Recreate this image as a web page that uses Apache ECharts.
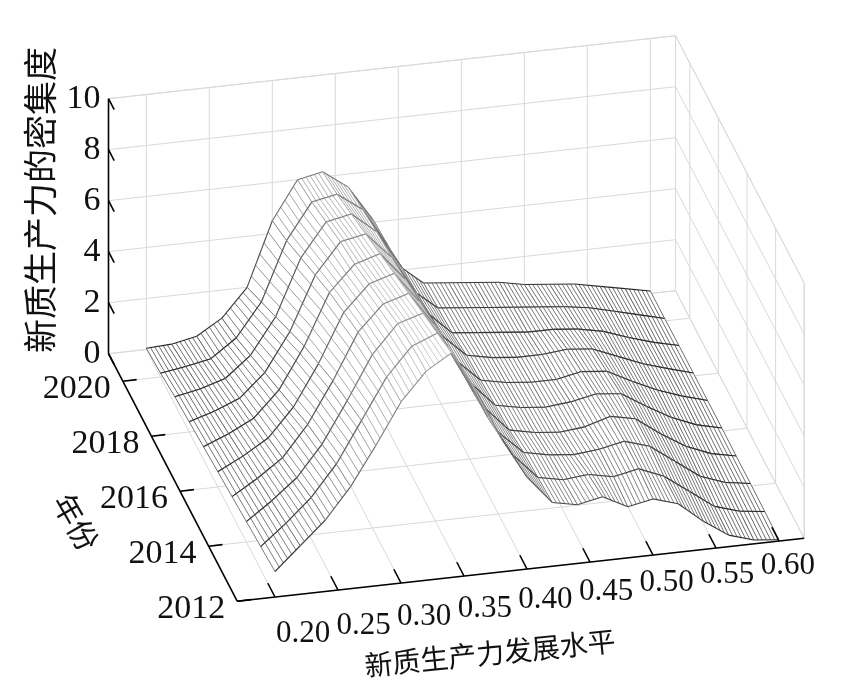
<!DOCTYPE html>
<html>
<head>
<meta charset="utf-8">
<script src="https://cdn.jsdelivr.net/npm/echarts@6/dist/echarts.min.js"></script>
<style>html,body{margin:0;padding:0;background:#fff}#chart{width:858px;height:685px}</style>
</head>
<body>
<div id="chart"></div>
<script>
// Kernel density of new quality productive forces, by year
var levels = [0.20,0.22,0.24,0.26,0.28,0.30,0.32,0.34,0.36,0.38,0.40,0.42,0.44,0.46,0.48,0.50,0.52,0.54,0.56,0.58,0.60];
var years = [2012,2013,2014,2015,2016,2017,2018,2019,2020,2021];
var d2012 = [1.0,1.9,2.8,4.0,5.5,7.1,8.2,8.8,7.2,5.2,3.6,2.5,2.3,2.5,2.0,2.2,1.9,1.1,0.45,0.15,0.05];
var d2013 = [0.9,1.7,2.6,3.8,5.4,7.0,8.1,8.5,7.0,5.0,3.4,2.4,2.2,2.3,2.1,2.3,1.9,1.2,0.5,0.2,0.08];
var d2014 = [0.8,1.5,2.3,3.5,5.1,6.8,7.9,8.2,6.8,4.9,3.2,2.3,2.1,2.0,2.1,2.3,2.0,1.3,0.6,0.25,0.1];
var d2015 = [0.7,1.3,2.0,3.2,4.8,6.6,7.6,7.9,6.6,4.8,3.1,2.1,1.9,1.8,1.9,2.2,2.0,1.3,0.7,0.3,0.1];
var d2016 = [0.6,1.1,1.7,2.8,4.4,6.3,7.3,7.6,6.4,4.7,3.0,2.0,1.8,1.7,1.8,2.0,1.9,1.3,0.75,0.35,0.12];
var d2017 = [0.5,0.9,1.4,2.4,4.0,6.0,7.0,7.3,6.2,4.6,2.8,1.9,1.7,1.6,1.6,1.8,1.7,1.2,0.75,0.4,0.12];
var d2018 = [0.4,0.7,1.1,2.0,3.5,5.6,6.8,7.0,6.0,4.5,2.7,1.8,1.6,1.5,1.5,1.6,1.5,1.1,0.7,0.4,0.12];
var d2019 = [0.3,0.5,0.8,1.6,3.0,5.2,6.5,6.7,5.9,4.4,2.5,1.6,1.5,1.4,1.3,1.3,1.2,1.0,0.65,0.35,0.12];
var d2020 = [0.15,0.3,0.5,1.2,2.5,4.8,6.2,6.4,5.7,4.2,2.3,1.5,1.4,1.3,1.2,1.1,1.0,0.85,0.6,0.35,0.1];
var d2021 = [0.05,0.1,0.3,0.9,2.0,4.5,6.0,6.2,5.5,4.1,2.2,1.4,1.3,1.2,1.1,0.9,0.8,0.7,0.5,0.3,0.1];
var density = [d2012,d2013,d2014,d2015,d2016,d2017,d2018,d2019,d2020,d2021];

var xTicks = [0.20,0.25,0.30,0.35,0.40,0.45,0.50,0.55,0.60];
var xTickLabels = ['0.20','0.25','0.30','0.35','0.40','0.45','0.50','0.55','0.60'];
var yearTicks = [2012,2014,2016,2018,2020];
var zTicks = [0,2,4,6,8,10];

// box limits
var X0 = 0.17, X1 = 0.62, Y0 = 2012, Y1 = 2021, Z0 = 0, Z1 = 10;

// simple oblique view of the 3D box onto the page
function proj(x, yr, z) {
    return [
        275 + (x - 0.2) * 1260 - (yr - 2012) * 14.3,
        597 - (x - 0.2) * 140 - (yr - 2012) * 27.5 - z * 25.5
    ];
}

var numFont = '"Liberation Serif", "Times New Roman", serif';
var cjkFont = '"Noto Sans CJK SC", sans-serif';

// grid lines on walls and floor
var gridSegs = [];
xTicks.forEach(function (x) {
    gridSegs.push([x, Y0, 0, x, Y1, 0]);
    gridSegs.push([x, Y1, 0, x, Y1, Z1]);
});
yearTicks.forEach(function (y) {
    gridSegs.push([X0, y, 0, X1, y, 0]);
    gridSegs.push([X1, y, 0, X1, y, Z1]);
});
zTicks.forEach(function (z) {
    gridSegs.push([X0, Y1, z, X1, Y1, z]);
    gridSegs.push([X1, Y0, z, X1, Y1, z]);
});
gridSegs.push([X1, Y1, 0, X1, Y1, Z1]);
gridSegs.push([X0, Y1, Z1, X1, Y1, Z1]);
gridSegs.push([X1, Y0, Z1, X1, Y1, Z1]);
gridSegs.push([X1, Y0, 0, X1, Y0, Z1]);
gridSegs.push([X0, Y1, 0, X1, Y1, 0]);
gridSegs.push([X1, Y0, 0, X1, Y1, 0]);

// axis lines and ticks
var axisSegs = [
    [X0, Y1, Z0, X0, Y1, Z1],
    [X0, Y0, 0, X0, Y1, 0],
    [X0, Y0, 0, X1, Y0, 0]
];
zTicks.forEach(function (z) { axisSegs.push([X0, Y1, z, X0, Y1 - 0.4, z]); });
yearTicks.forEach(function (y) { axisSegs.push([X0, y, 0, X0 + 0.011, y, 0]); });
xTicks.forEach(function (x) { axisSegs.push([x, Y0, 0, x, Y0 + 0.5, 0]); });

// surface cells sorted back to front
var cells = [];
for (var j = 0; j < years.length - 1; j++) {
    for (var i = 0; i < levels.length - 1; i++) {
        var depth = 140 * (levels[i] - 0.2) + 27.5 * (years[j] - 2012);
        cells.push([i, j, depth]);
    }
}
cells.sort(function (a, b) { return b[2] - a[2]; });

var labels = [];
zTicks.forEach(function (z) { labels.push([X0, Y1, z, String(z), 'z', 0]); });
yearTicks.forEach(function (y) { labels.push([X0, y, 0, String(y), 'y', 0]); });
xTicks.forEach(function (x, k) { labels.push([x, Y0, 0, xTickLabels[k], 'x', k]); });

var chart = echarts.init(document.getElementById('chart'));

function segRender(color, width) {
    return function (params, api) {
        var a = api.coord(proj(api.value(0), api.value(1), api.value(2)));
        var b = api.coord(proj(api.value(3), api.value(4), api.value(5)));
        return {
            type: 'line',
            shape: {x1: a[0], y1: a[1], x2: b[0], y2: b[1]},
            style: {stroke: color, lineWidth: width}
        };
    };
}

function grayOf(z, base) {
    var g = Math.round(base + Math.min(z / 8.5, 1) * 120);
    g = Math.max(0, Math.min(230, g));
    return 'rgb(' + g + ',' + g + ',' + g + ')';
}

function lerp(a, b, t) { return [a[0] + (b[0] - a[0]) * t, a[1] + (b[1] - a[1]) * t]; }

function surfaceRender(params, api) {
    var i = api.value(0), j = api.value(1);
    var z00 = density[j][i], z10 = density[j][i + 1], z01 = density[j + 1][i], z11 = density[j + 1][i + 1];
    var p00 = api.coord(proj(levels[i], years[j], z00));
    var p10 = api.coord(proj(levels[i + 1], years[j], z10));
    var p01 = api.coord(proj(levels[i], years[j + 1], z01));
    var p11 = api.coord(proj(levels[i + 1], years[j + 1], z11));
    var zAvg = (z00 + z10 + z01 + z11) / 4;
    var children = [{
        type: 'polygon',
        shape: {points: [p00, p10, p11, p01]},
        style: {fill: '#fff', stroke: '#fff', lineWidth: 0.3}
    }];
    var K = 6;
    for (var k = 0; k <= K; k++) {
        var a = lerp(p00, p10, k / K), b = lerp(p01, p11, k / K);
        children.push({
            type: 'line',
            shape: {x1: a[0], y1: a[1], x2: b[0], y2: b[1]},
            style: {stroke: grayOf(zAvg, 70), lineWidth: 0.8}
        });
    }
    children.push({
        type: 'line', shape: {x1: p00[0], y1: p00[1], x2: p10[0], y2: p10[1]},
        style: {stroke: grayOf((z00 + z10) / 2, 35), lineWidth: 1.1}
    });
    children.push({
        type: 'line', shape: {x1: p01[0], y1: p01[1], x2: p11[0], y2: p11[1]},
        style: {stroke: grayOf((z01 + z11) / 2, 35), lineWidth: 1.1}
    });
    return {type: 'group', children: children};
}

function labelRender(params, api) {
    var d = labels[params.dataIndex];
    var p = api.coord(proj(d[0], d[1], d[2]));
    var size = d[4] === 'x' ? 31 : 34;
    var style = {text: d[3], fill: '#111', font: size + 'px ' + numFont, verticalAlign: 'middle'};
    var x = p[0], y = p[1];
    if (d[4] === 'z') { x -= 8; style.align = 'right'; }
    else if (d[4] === 'y') { x -= 12; y += 8; style.align = 'right'; }
    else { x += 28 - d[5] * 2.4; y += 37 - d[5] * 1.5; style.align = 'center'; }
    style.x = x; style.y = y;
    return {type: 'text', style: style};
}

chart.setOption({
    animation: false,
    grid: {left: 0, right: 0, top: 0, bottom: 0},
    xAxis: {type: 'value', min: 0, max: 858, show: false},
    yAxis: {type: 'value', min: 0, max: 685, inverse: true, show: false},
    graphic: [
        {type: 'text', x: 40, y: 200, rotation: Math.PI / 2,
         style: {text: '新质生产力的密集度', font: '34px ' + cjkFont, fill: '#111', align: 'center', verticalAlign: 'middle'}},
        {type: 'text', x: 76, y: 522, rotation: -1.05,
         style: {text: '年份', font: '30px ' + cjkFont, fill: '#111', align: 'center', verticalAlign: 'middle'}},
        {type: 'text', x: 490, y: 653, rotation: 0.1,
         style: {text: '新质生产力发展水平', font: '28px ' + cjkFont, fill: '#111', align: 'center', verticalAlign: 'middle'}}
    ],
    series: [
        {type: 'custom', z: 1, silent: true, data: gridSegs, renderItem: segRender('#d9d9d9', 1)},
        {type: 'custom', z: 2, silent: true, data: cells, renderItem: surfaceRender},
        {type: 'custom', z: 3, silent: true, data: axisSegs, renderItem: segRender('#000', 1.6)},
        {type: 'custom', z: 3, silent: true, data: labels.map(function (d, k) { return [k]; }), renderItem: labelRender}
    ]
});
</script>
</body>
</html>
